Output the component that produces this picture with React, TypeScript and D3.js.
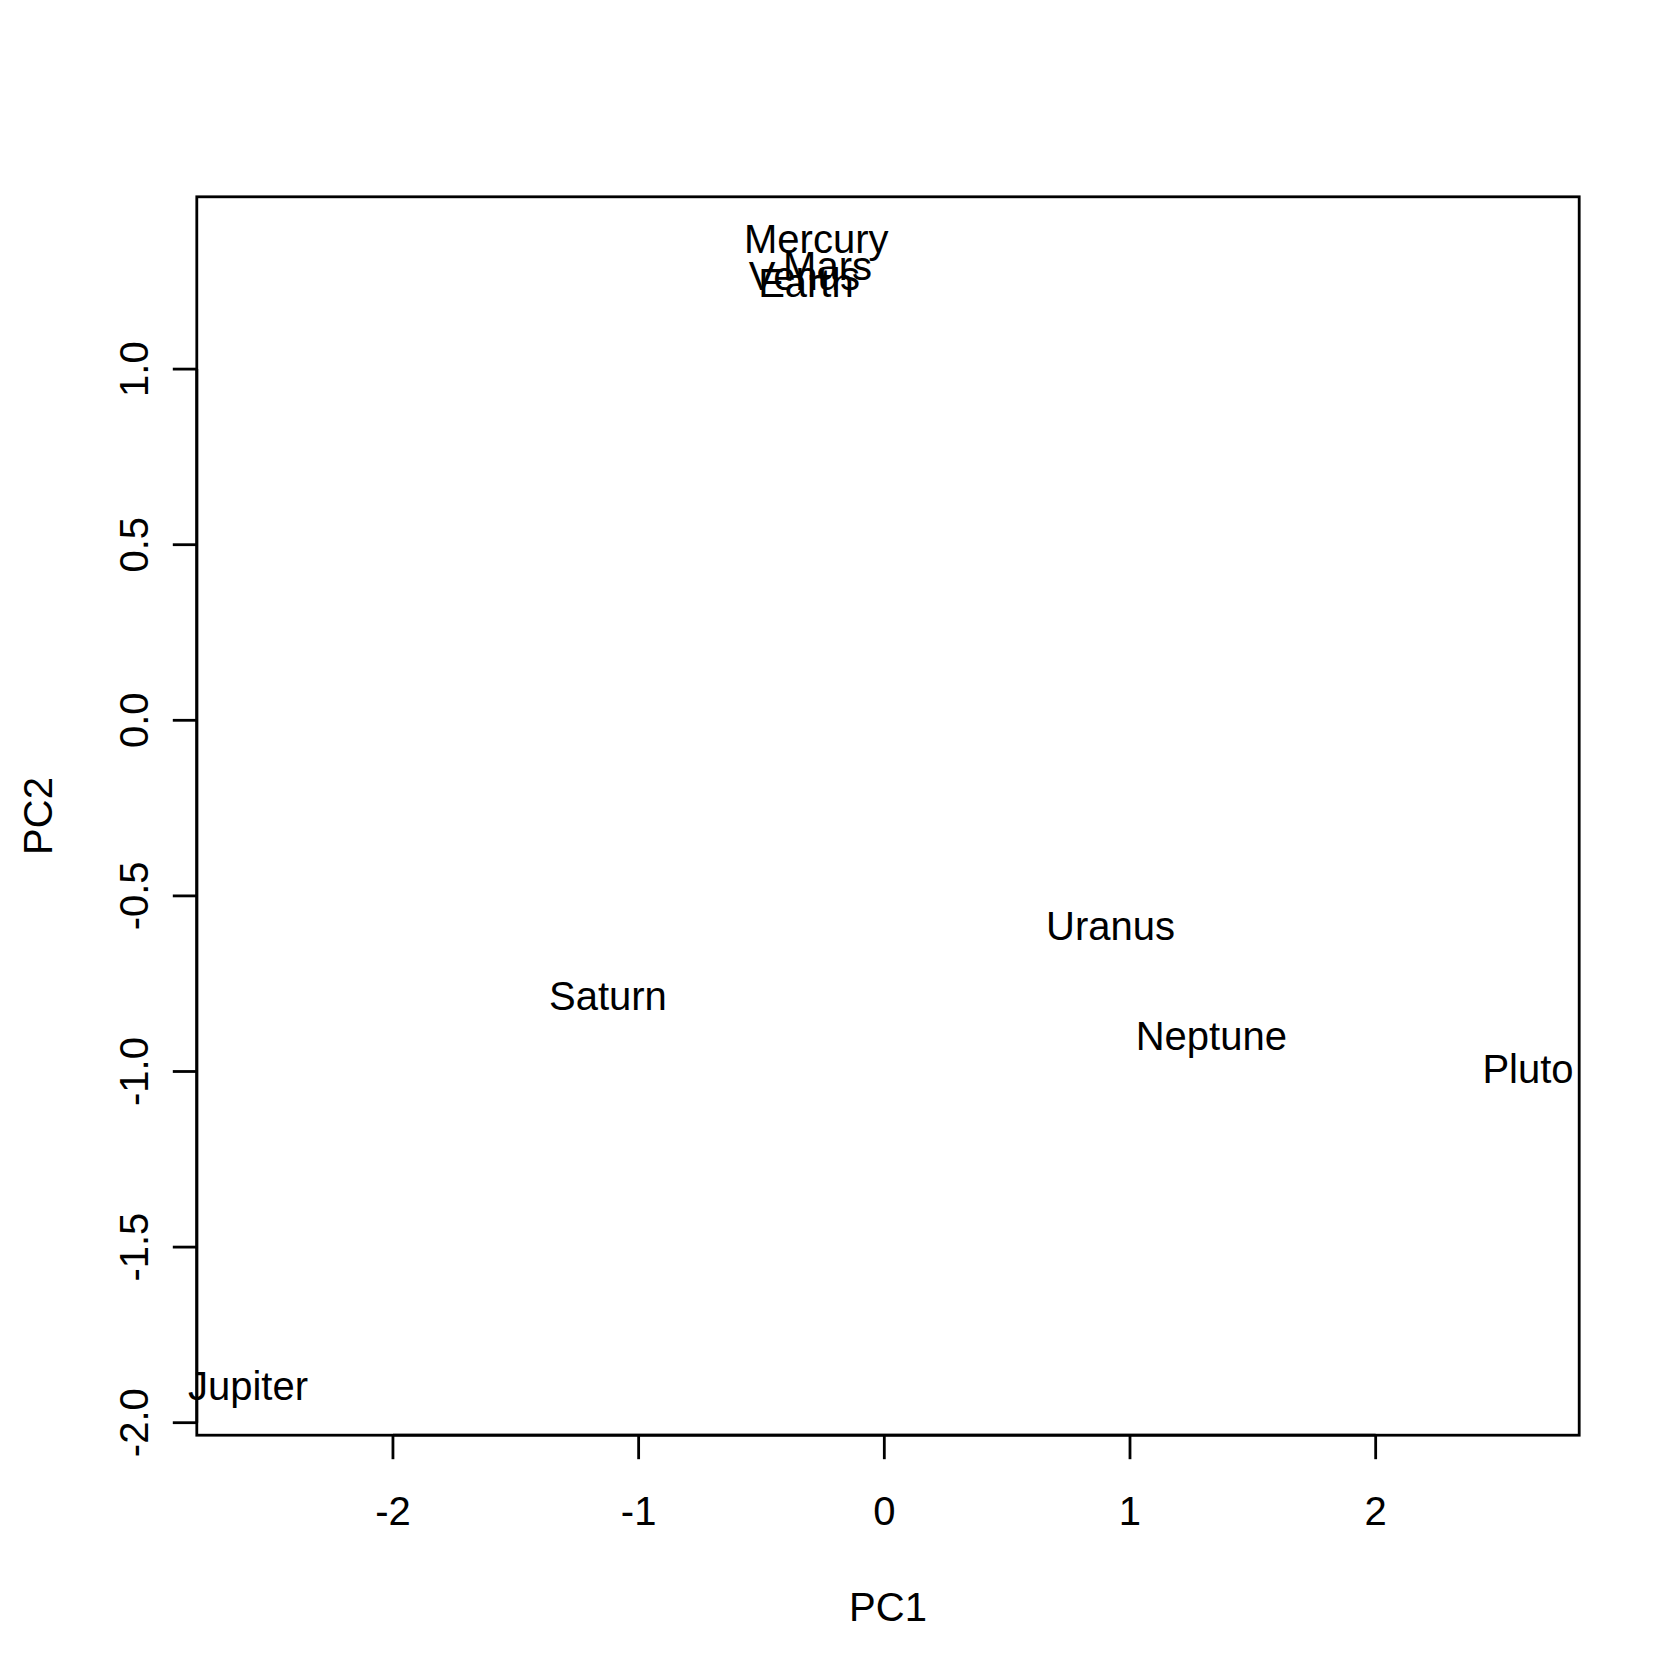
import * as d3 from "d3";
import { useEffect } from "react";

// planet scores on the first two principal components
const planets = ["Mercury", "Venus", "Earth", "Mars", "Jupiter", "Saturn", "Uranus", "Neptune", "Pluto"];
const pc1 = [-0.277, -0.325, -0.319, -0.231, -2.59, -1.125, 0.921, 1.331, 2.62];
const pc2 = [1.36, 1.266, 1.246, 1.294, -1.905, -0.783, -0.584, -0.91, -0.991];

const xTicks = [-2, -1, 0, 1, 2];
const yTicks = [-2, -1.5, -1, -0.5, 0, 0.5, 1];

const W = 1680,
  H = 1680;
// R default margins (5.1, 4.1, 4.1, 2.1 lines), 48px a line
const line = 48;
const margin = { top: 4.1 * line, right: 2.1 * line, bottom: 5.1 * line, left: 4.1 * line };
const font = "'Liberation Sans', Arial, Helvetica, sans-serif";
const fs = 40;

// R pads the data range by 4% on each side
function rRange(v: number[]): [number, number] {
  const [lo, hi] = d3.extent(v) as [number, number];
  const pad = (hi - lo) * 0.04;
  return [lo - pad, hi + pad];
}

// R prints a plain hyphen for negatives
const fmtY = (t: number) => d3.format(".1f")(t).replace("\u2212", "-");
const fmtX = (t: number) => d3.format("d")(t).replace("\u2212", "-");

export default function App() {
  useEffect(() => {
    document.body.style.margin = "0";
  }, []);

  const x = d3.scaleLinear().domain(rRange(pc1)).range([margin.left, W - margin.right]);
  const y = d3.scaleLinear().domain(rRange(pc2)).range([H - margin.bottom, margin.top]);
  const [x0, x1] = x.range();
  const [y0, y1] = y.range();
  const lw = 2.8;

  return (
    <svg width={W} height={H} style={{ display: "block", background: "#fff" }} fontFamily={font} fontSize={fs}>
      <rect x={x0} y={y1} width={x1 - x0} height={y0 - y1} fill="none" stroke="#000" strokeWidth={lw} />

      {/* x axis */}
      <line x1={x(xTicks[0])} x2={x(xTicks[xTicks.length - 1])} y1={y0} y2={y0} stroke="#000" strokeWidth={lw} />
      {xTicks.map((t) => (
        <g key={"x" + t}>
          <line x1={x(t)} x2={x(t)} y1={y0} y2={y0 + line / 2} stroke="#000" strokeWidth={lw} />
          <text x={x(t)} y={y0 + 1.87 * line} textAnchor="middle">
            {fmtX(t)}
          </text>
        </g>
      ))}

      {/* y axis */}
      <line x1={x0} x2={x0} y1={y(yTicks[0])} y2={y(yTicks[yTicks.length - 1])} stroke="#000" strokeWidth={lw} />
      {yTicks.map((t) => (
        <g key={"y" + t}>
          <line x1={x0} x2={x0 - line / 2} y1={y(t)} y2={y(t)} stroke="#000" strokeWidth={lw} />
          <text transform={`translate(${x0 - 1.02 * line},${y(t)}) rotate(-90)`} textAnchor="middle">
            {fmtY(t)}
          </text>
        </g>
      ))}

      <text x={(x0 + x1) / 2} y={y0 + 3.87 * line} textAnchor="middle">
        PC1
      </text>
      <text transform={`translate(${x0 - 3.02 * line},${(y0 + y1) / 2}) rotate(-90)`} textAnchor="middle">
        PC2
      </text>

      {/* labels centred on the points, like R's text() */}
      {planets.map((p, i) => {
        const desc = /[gjpqy]/.test(p);
        return (
          <text key={p} x={x(pc1[i])} y={y(pc2[i])} dy={desc ? "0.255em" : "0.36em"} textAnchor="middle">
            {p}
          </text>
        );
      })}
    </svg>
  );
}
